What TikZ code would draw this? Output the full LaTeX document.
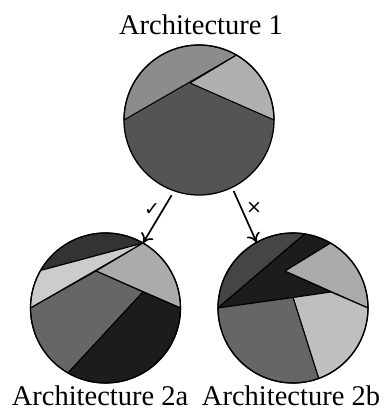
\documentclass[tikz,border=0pt]{standalone}
\usepackage{fontspec}
\setmainfont{Liberation Serif}
\newfontfamily\symfont{DejaVu Sans}
\usetikzlibrary{arrows.meta}
\definecolor{gA}{gray}{0.55}
\definecolor{gB}{gray}{0.69}
\definecolor{gC}{gray}{0.33}
\definecolor{gD}{gray}{0.20}
\definecolor{gE}{gray}{0.80}
\definecolor{gF}{gray}{0.67}
\definecolor{gG}{gray}{0.40}
\definecolor{gH}{gray}{0.11}
\definecolor{gI}{gray}{0.27}
\definecolor{gJ}{gray}{0.75}
\begin{document}
\begin{tikzpicture}[x=1pt,y=1pt,
  slice/.style={draw=black,line width=1.1pt,line join=round},
  rim/.style={draw=black,line width=1.3pt},
  label/.style={font=\fontsize{28.5}{30}\selectfont,inner sep=0pt},
  tick/.style={font=\symfont\fontsize{19}{19}\selectfont,inner sep=0pt},
  arrowline/.style={line width=1.7pt,-{To[length=9pt,width=14pt,line width=1.7pt]}}]
\useasboundingbox (0,0) rectangle (384,410);
\def\r{75}
% --- Architecture 1 ---
\coordinate (c1) at (199,290);
\coordinate (v1) at (190,327);
\fill[gC] (c1) circle (\r);
\filldraw[slice,fill=gA] ([shift={(180:\r)}]c1) arc[start angle=180,end angle=60,radius=\r] -- cycle;
\filldraw[slice,fill=gB] (v1) -- ([shift={(60:\r)}]c1) arc[start angle=60,end angle=0,radius=\r] -- cycle;
\draw[rim] (c1) circle (\r);
% --- Architecture 2a ---
\coordinate (c2) at (105.5,102);
\coordinate (v2) at (96,139);
\coordinate (d2) at (143,118);
\filldraw[slice,fill=gD] ([shift={(150:\r)}]c2) arc[start angle=150,end angle=60,radius=\r] -- cycle;
\filldraw[slice,fill=gE] ([shift={(60:\r)}]c2) -- ([shift={(150:\r)}]c2) arc[start angle=150,end angle=180,radius=\r] -- cycle;
\filldraw[slice,fill=gF] (v2) -- ([shift={(60:\r)}]c2) arc[start angle=60,end angle=0,radius=\r] -- cycle;
\filldraw[slice,fill=gG] ([shift={(180:\r)}]c2) -- (v2) -- (d2) -- ([shift={(240:\r)}]c2) arc[start angle=240,end angle=180,radius=\r] -- cycle;
\filldraw[slice,fill=gH] (d2) -- ([shift={(0:\r)}]c2) arc[start angle=0,end angle=-120,radius=\r] -- cycle;
\draw[rim] (c2) circle (\r);
% --- Architecture 2b ---
\coordinate (c3) at (293,102);
\coordinate (w3) at (285,139);
\coordinate (k3) at (331,118);
\coordinate (m3) at (293,112.5);
\filldraw[slice,fill=gI] ([shift={(180:\r)}]c3) arc[start angle=180,end angle=81,radius=\r] -- cycle;
\filldraw[slice,fill=gH] ([shift={(81:\r)}]c3) arc[start angle=81,end angle=60,radius=\r] -- (w3) -- (k3) -- (m3) -- ([shift={(180:\r)}]c3) -- cycle;
\filldraw[slice,fill=gF] (w3) -- ([shift={(60:\r)}]c3) arc[start angle=60,end angle=0,radius=\r] -- cycle;
\filldraw[slice,fill=gJ] (m3) -- (k3) -- ([shift={(0:\r)}]c3) arc[start angle=0,end angle=-70,radius=\r] -- cycle;
\filldraw[slice,fill=gG] ([shift={(180:\r)}]c3) -- (m3) -- ([shift={(-70:\r)}]c3) arc[start angle=-70,end angle=-180,radius=\r] -- cycle;
\draw[rim] (c3) circle (\r);
% --- labels ---
\node[label,anchor=base] (t1) at (201,375) {Architecture 1};
\node[label,anchor=base] (t2a) at (100,5) {Architecture 2a};
\node[label,anchor=base] (t2b) at (291,5) {Architecture 2b};
% --- transitions ---
\coordinate (s1) at ([shift={(-110:80)}]c1);
\coordinate (e1) at ([shift={(60:\r)}]c2);
\coordinate (s2) at ([shift={(-64:79)}]c1);
\coordinate (e2) at ([shift={(119:\r)}]c3);
\draw[arrowline] (s1) -- (e1);
\draw[arrowline] (s2) -- (e2);
\node[tick] (ok) at (152,200) {✓};
\node[tick] (no) at (254,202) {×};
\end{tikzpicture}
\end{document}
